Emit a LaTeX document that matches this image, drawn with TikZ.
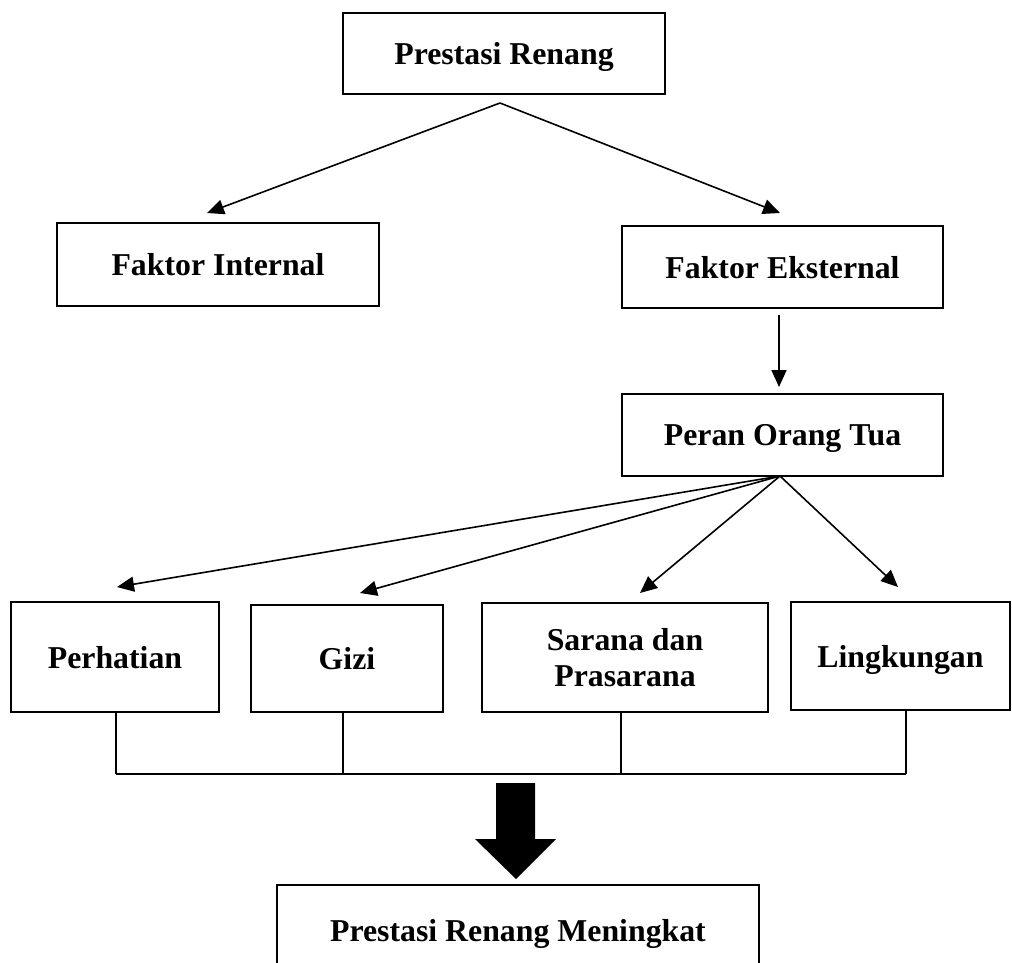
\documentclass[tikz,border=0pt]{standalone}
\usepackage{fontspec}
\setmainfont{Liberation Serif}
\usetikzlibrary{arrows.meta}
\begin{document}
\begin{tikzpicture}[x=1pt,y=-1pt,
  box/.style={draw=black,line width=2.2pt,inner sep=0pt,align=center,text depth=0pt,
    font=\fontsize{31.8}{36}\selectfont\bfseries},
  conn/.style={line width=1.6pt},
  arr/.style={line width=1.6pt,-{Triangle[length=17pt,width=15pt]}}]
\useasboundingbox (0,0) rectangle (1012,962);
\clip (0,0) rectangle (1012,962);
% boxes
\node[box,minimum width=322pt,minimum height=81pt] (top) at (504,53.5) {Prestasi Renang};
\node[box,minimum width=322pt,minimum height=83pt] (int) at (218,264.5) {Faktor Internal};
\node[box,minimum width=321pt,minimum height=82pt] (eks) at (782.5,267) {Faktor Eksternal};
\node[box,minimum width=321pt,minimum height=82pt] (peran) at (782.5,435) {Peran Orang Tua};
\node[box,minimum width=208pt,minimum height=110pt] (perh) at (115,657) {Perhatian};
\node[box,minimum width=192pt,minimum height=107pt] (gizi) at (347,658.5) {Gizi};
\node[box,minimum width=286pt,minimum height=109pt] (sar) at (625,657.5) {Sarana dan\\Prasarana};
\node[box,minimum width=219pt,minimum height=108pt] (ling) at (900.5,656) {Lingkungan};
\node[box,minimum width=482pt,minimum height=90pt] (hasil) at (518,930) {Prestasi Renang Meningkat};
% coordinates
\coordinate (a1) at (500,103);
\coordinate (t1) at (207,213);
\coordinate (t2) at (780,213);
\coordinate (e1) at (779,315);
\coordinate (e2) at (779,387);
\coordinate (a2) at (780,476);
\coordinate (p1) at (117,587);
\coordinate (p2) at (360,593);
\coordinate (p3) at (640,593);
\coordinate (p4) at (898,587);
\coordinate (b1) at (116,774);
\coordinate (b2) at (343,774);
\coordinate (b3) at (621,774);
\coordinate (b4) at (906,774);
% connectors
\draw[arr] (a1) -- (t1);
\draw[arr] (a1) -- (t2);
\draw[arr] (e1) -- (e2);
\draw[arr] (a2) -- (p1);
\draw[arr] (a2) -- (p2);
\draw[arr] (a2) -- (p3);
\draw[arr] (a2) -- (p4);
\draw[conn] (b1 |- perh.south) -- (b1);
\draw[conn] (b2 |- gizi.south) -- (b2);
\draw[conn] (b3 |- sar.south) -- (b3);
\draw[conn] (b4 |- ling.south) -- (b4);
\draw[conn] (b1) -- (b4);
% big arrow
\fill[black] (496,783) -- (535,783) -- (535,839) -- (556,839) -- (516,879)
  -- (475,839) -- (496,839) -- cycle;
\end{tikzpicture}
\end{document}
